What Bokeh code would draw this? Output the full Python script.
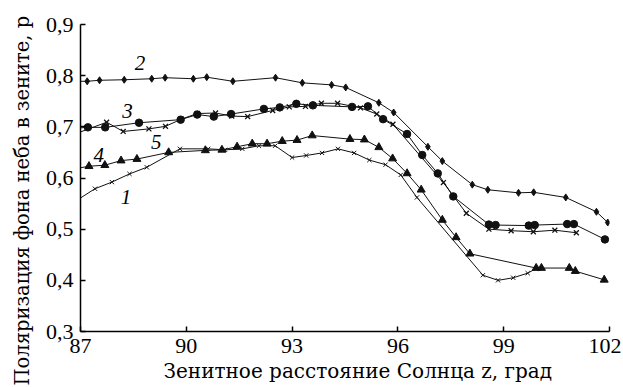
from bokeh.plotting import figure
from bokeh.models import Label, FixedTicker, Range1d, Title
from bokeh.embed import file_html
from bokeh.resources import INLINE

# ---- data ----
x_ticks = [87, 90, 93, 96, 99, 102]
x_tick_labels = ["87", "90", "93", "96", "99", "102"]
y_ticks = [0.3, 0.4, 0.5, 0.6, 0.7, 0.8, 0.9]
y_tick_labels = ["0,3", "0,4", "0,5", "0,6", "0,7", "0,8", "0,9"]

z1 = [87.0, 87.41, 87.89, 88.39, 88.88, 89.82, 90.62, 91.10, 91.59, 92.06, 92.52, 93.00, 93.40,
      93.85, 94.30, 94.76, 95.19, 95.65, 96.08, 96.54, 98.41, 98.84, 99.27, 99.68, 99.92]
p1 = [0.561, 0.579, 0.592, 0.608, 0.621, 0.657, 0.657, 0.655, 0.657, 0.663, 0.663, 0.640, 0.644,
      0.649, 0.657, 0.649, 0.635, 0.626, 0.606, 0.562, 0.410, 0.400, 0.405, 0.414, 0.423]

z2 = [87.0, 87.19, 87.54, 88.24, 89.02, 89.40, 90.20, 90.58, 91.32, 92.53, 93.29, 94.12, 94.52,
      95.46, 95.88, 96.85, 97.26, 98.11, 98.55, 99.42, 99.85, 100.76, 101.63, 101.95]
p2 = [0.789, 0.789, 0.791, 0.792, 0.794, 0.796, 0.794, 0.797, 0.789, 0.796, 0.786, 0.782, 0.777,
      0.747, 0.728, 0.661, 0.633, 0.587, 0.577, 0.571, 0.572, 0.562, 0.534, 0.513]

z3 = [87.0, 87.21, 87.70, 88.66, 89.84, 90.31, 90.78, 91.27, 92.20, 92.65, 93.12, 93.59, 94.70,
      95.15, 95.58, 96.26, 96.69, 97.13, 97.57, 98.58, 98.77, 99.71, 99.88, 100.80, 100.99, 101.87]
p3 = [0.698, 0.699, 0.699, 0.708, 0.714, 0.724, 0.720, 0.725, 0.735, 0.738, 0.745, 0.742, 0.739,
      0.740, 0.715, 0.686, 0.645, 0.609, 0.564, 0.509, 0.508, 0.507, 0.508, 0.510, 0.510, 0.480]

z4 = [87.0, 87.24, 87.69, 88.15, 88.60, 89.50, 90.54, 91.01, 91.44, 91.87, 92.29, 92.72, 93.14,
      93.57, 94.64, 95.05, 95.46, 95.85, 96.26, 96.66, 97.26, 97.65, 98.04, 99.92, 100.07, 100.86,
      101.03, 101.85]
p4 = [0.620, 0.623, 0.625, 0.634, 0.637, 0.650, 0.654, 0.655, 0.661, 0.667, 0.667, 0.672, 0.674,
      0.683, 0.676, 0.675, 0.660, 0.638, 0.609, 0.577, 0.518, 0.484, 0.452, 0.424, 0.424, 0.424,
      0.418, 0.401]

z5 = [87.0, 87.74, 88.21, 88.94, 89.41, 89.86, 90.31, 90.83, 91.29, 91.74, 92.45, 92.92, 93.38,
      93.83, 94.29, 94.94, 95.40, 95.86, 97.29, 97.94, 98.58, 99.21, 99.84, 100.45, 101.06]
p5 = [0.690, 0.709, 0.691, 0.696, 0.701, 0.715, 0.726, 0.727, 0.721, 0.720, 0.732, 0.739, 0.740,
      0.746, 0.746, 0.737, 0.725, 0.705, 0.591, 0.531, 0.500, 0.497, 0.495, 0.498, 0.493]

series_names = ["1", "2", "3", "4", "5"]
x_title = "Зенитное расстояние Солнца z, град"
y_title = "Поляризация фона неба в зените, p"

FONT = "Liberation Serif"
TFONT = "DejaVu Serif"

p = figure(width=621, height=385, x_range=Range1d(87, 102), y_range=Range1d(0.3, 0.9),
           output_backend="svg", toolbar_location=None,
           min_border_left=80, min_border_right=12, min_border_top=24, min_border_bottom=54)
p.background_fill_color = "white"
p.border_fill_color = "white"
p.outline_line_color = None
p.grid.visible = False

p.xaxis.ticker = FixedTicker(ticks=x_ticks)
p.yaxis.ticker = FixedTicker(ticks=y_ticks)
p.xaxis.major_label_overrides = dict(zip(x_ticks, x_tick_labels))
p.yaxis.major_label_overrides = dict(zip(y_ticks, y_tick_labels))
for ax in (p.xaxis[0], p.yaxis[0]):
    ax.major_tick_in = 5
    ax.major_tick_out = 0
    ax.minor_tick_in = 0
    ax.minor_tick_out = 0
    ax.axis_line_width = 1.5
    ax.axis_line_color = "black"
    ax.major_tick_line_width = 1.5
    ax.major_tick_line_color = "black"
    ax.major_label_text_font = FONT
    ax.major_label_text_font_size = "22px"
    ax.major_label_text_color = "black"
p.xaxis.major_label_standoff = 7
p.yaxis.major_label_standoff = 7

LC = "#111111"
# curve 1 (small crosses)
p.line(z1, p1, line_color=LC, line_width=1)
p.scatter(z1[1:], p1[1:], marker="x", size=6, line_color=LC, line_width=1)
# curve 2 (small diamonds)
p.line(z2, p2, line_color=LC, line_width=1)
p.scatter(z2[1:], p2[1:], marker="diamond", size=7, fill_color=LC, line_color=LC)
# curve 3 (large dots)
p.line(z3, p3, line_color=LC, line_width=1)
p.scatter(z3[1:], p3[1:], marker="circle", size=7.5, fill_color=LC, line_color=LC)
# curve 4 (triangles)
p.line(z4, p4, line_color=LC, line_width=1)
p.scatter(z4[1:], p4[1:], marker="triangle", size=8, fill_color=LC, line_color=LC)
# curve 5 (crosses)
p.line(z5, p5, line_color=LC, line_width=1)
p.scatter(z5[1:], p5[1:], marker="x", size=7, line_color=LC, line_width=1.3)

# curve numbers
num_pos = {"1": (88.29, 0.562), "2": (88.69, 0.824), "3": (88.33, 0.731),
           "4": (87.52, 0.644), "5": (89.15, 0.670)}
for name in series_names:
    x, y = num_pos[name]
    p.add_layout(Label(x=x, y=y, text=name, text_font=FONT, text_font_style="italic",
                       text_font_size="21px", text_align="center", text_baseline="middle",
                       text_color="black"))

# axis titles
p.add_layout(Title(text=x_title, align="left", offset=83, standoff=2,
                   vertical_align="bottom", text_font=TFONT, text_font_size="20px",
                   text_font_style="normal", text_color="black"), "below")
p.add_layout(Title(text=y_title, align="left", offset=-54, standoff=13,
                   vertical_align="top", text_font=TFONT, text_font_size="19.5px",
                   text_font_style="normal", text_color="black"), "left")

open("out.html", "w").write(file_html(p, INLINE))
